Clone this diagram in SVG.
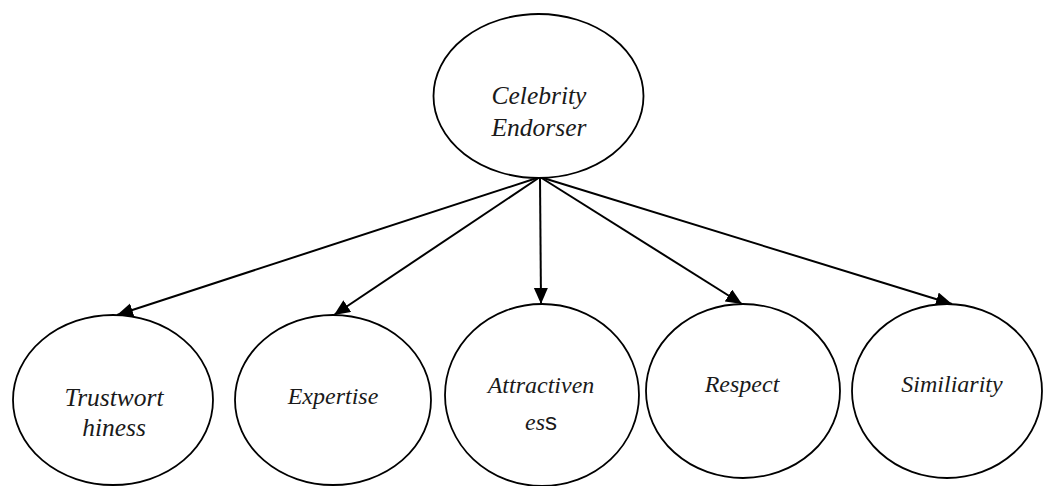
<svg xmlns="http://www.w3.org/2000/svg" width="1043" height="486" viewBox="0 0 1043 486">
<style>
.node ellipse { fill: #ffffff; stroke: #000000; stroke-width: 1.8; }
.lbl { font-family: 'Liberation Serif', 'Times New Roman', serif; font-style: italic; font-size: 24px; fill: #1a1a1a; text-anchor: middle; }
.big { font-size: 25.5px; }
.sans { font-family: 'Liberation Sans', Arial, sans-serif; font-style: normal; }
.conn line { stroke: #000000; stroke-width: 2; marker-end: url(#arrow); }
</style>
<defs>
<marker id="arrow" markerUnits="userSpaceOnUse" markerWidth="17" markerHeight="15" refX="16" refY="7" orient="auto">
<path d="M0,0 L16,7 L0,14 z" fill="#000000"/>
</marker>
</defs>
<rect width="1043" height="486" fill="#ffffff"/>
<g id="connectors" class="conn">
<line x1="540" y1="177" x2="117" y2="315"/>
<line x1="540" y1="177" x2="334" y2="315"/>
<line x1="540" y1="177" x2="541" y2="304"/>
<line x1="540" y1="177" x2="742" y2="304"/>
<line x1="540" y1="177" x2="952" y2="304"/>
</g>
<g id="celebrity-endorser" class="node">
<ellipse cx="538.5" cy="96" rx="105" ry="82"/>
<text class="lbl big" x="539" y="104">Celebrity</text>
<text class="lbl big" x="539" y="136">Endorser</text>
</g>
<g id="trustworthiness" class="node">
<ellipse cx="113" cy="400" rx="100" ry="85"/>
<text class="lbl big" x="114" y="406">Trustwort</text>
<text class="lbl big" x="114" y="436">hiness</text>
</g>
<g id="expertise" class="node">
<ellipse cx="333" cy="400" rx="98" ry="85"/>
<text class="lbl" x="333" y="404">Expertise</text>
</g>
<g id="attractiveness" class="node">
<ellipse cx="542" cy="395" rx="97" ry="91"/>
<text class="lbl" x="541" y="393">Attractiven</text>
<text class="lbl" x="541" y="430">es<tspan class="sans">s</tspan></text>
</g>
<g id="respect" class="node">
<ellipse cx="743" cy="391" rx="97" ry="87"/>
<text class="lbl" x="742" y="392">Respect</text>
</g>
<g id="similiarity" class="node">
<ellipse cx="947" cy="391" rx="95" ry="87"/>
<text class="lbl" x="952" y="392">Similiarity</text>
</g>
</svg>
